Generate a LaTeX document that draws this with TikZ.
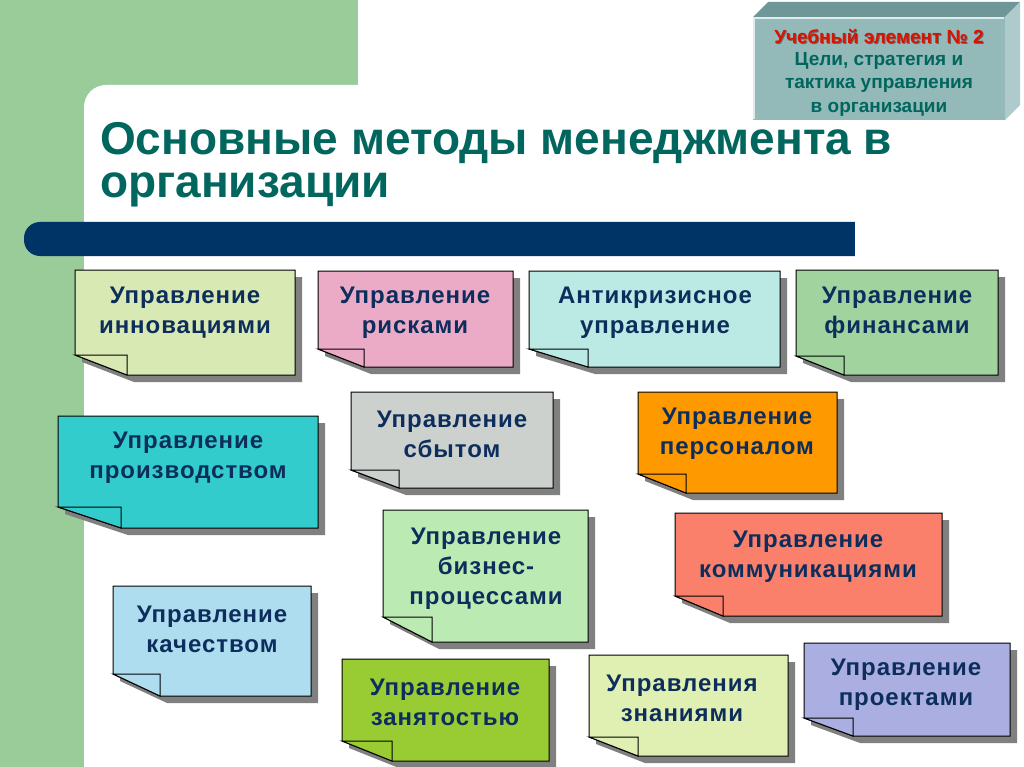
\documentclass[tikz,border=0pt]{standalone}
\usepackage{fontspec}
\setmainfont{Liberation Sans}
\newfontfamily\boxfont[LetterSpace=4]{Liberation Sans}
\definecolor{bggreen}{HTML}{99CC99}
\definecolor{navy}{HTML}{003366}
\definecolor{titleteal}{HTML}{00665E}
\definecolor{txtblue}{HTML}{0D2E5C}
\definecolor{shadowgray}{HTML}{808080}
\definecolor{cInnov}{HTML}{D8E9B3}
\definecolor{cRisk}{HTML}{EBAAC6}
\definecolor{cAnti}{HTML}{BBE9E3}
\definecolor{cFin}{HTML}{A0D39E}
\definecolor{cProiz}{HTML}{33CCCC}
\definecolor{cSbyt}{HTML}{CCD1CE}
\definecolor{cPers}{HTML}{FF9900}
\definecolor{cBiz}{HTML}{BBEBB3}
\definecolor{cComm}{HTML}{FA806B}
\definecolor{cKach}{HTML}{AEDDEF}
\definecolor{cZan}{HTML}{99CC33}
\definecolor{cZnan}{HTML}{E0F0B3}
\definecolor{cProj}{HTML}{AAAEE0}
\definecolor{boxface}{HTML}{94B9B9}
\definecolor{boxtop}{HTML}{6F9797}
\definecolor{boxright}{HTML}{AFCACA}
\definecolor{boxred}{HTML}{DD1100}
\tikzset{
  lbl/.style={text=txtblue, font=\boxfont\fontsize{24}{30}\selectfont\bfseries, align=center, inner sep=0pt, yshift=-2pt},
  titletext/.style={anchor=west, text=titleteal, font=\fontsize{46}{48}\selectfont\bfseries, inner sep=0pt},
  notefill/.style={draw=black, line width=1pt},
  noteshadow/.style={fill=shadowgray},
}
% #1 colour, #2 x0, #3 y0, #4 x1, #5 y1, #6 fold x, #7 fold y
\newcommand\notebox[7]{%
  \fill[noteshadow] ({#2+7},{#3+7}) -- ({#4+7},{#3+7}) -- ({#4+7},{#5+7}) -- ({#6+7},{#5+7}) -- ({#2+7},{#7+7}) -- cycle;
  \filldraw[notefill, fill=#1] (#2,#3) -- (#4,#3) -- (#4,#5) -- (#6,#5) -- (#2,#7) -- cycle;
  \filldraw[notefill, fill=#1] (#2,#7) -- (#6,#7) -- (#6,#5) -- cycle;
}
\begin{document}
\begin{tikzpicture}[x=1pt,y=-1pt]
\useasboundingbox (0,0) rectangle (1024,767);
\fill[white] (0,0) rectangle (1024,767);
% background
\fill[bggreen] (0,0) rectangle (358,767);
\fill[white, rounded corners=22pt] (84,85) -- (1100,85) -- (1100,800) -- (84,800) -- cycle;
\fill[white] (84,400) rectangle (1024,767);
\fill[white] (400,85) rectangle (1024,767);
% navy bar
\fill[navy, rounded corners=16pt] (24,222) -- (900,222) -- (900,256) -- (24,256) -- cycle;
\fill[navy] (100,222) rectangle (855,256);
\fill[white] (855,220) rectangle (910,258);
% title
\node[titletext] (title1) at (100,143) {Основные методы менеджмента в};
\node[titletext] (title2) at (100,190) {организации};
% top-right box
\fill[boxtop] (753,17) -- (768,2) -- (1020,2) -- (1005,17) -- cycle;
\fill[boxright] (1005,17) -- (1020,2) -- (1020,105) -- (1005,120) -- cycle;
\fill[boxface] (753,17) rectangle (1005,120);
\draw[white!70!boxface, line width=1.2pt] (754,119) -- (754,18) -- (1004,18);
\node[text=black!60, font=\fontsize{19}{20}\selectfont\bfseries, inner sep=0pt] (ueShadow) at (880,38) {Учебный элемент № 2};
\node[text=boxred, font=\fontsize{19}{20}\selectfont\bfseries, inner sep=0pt] (ue) at (879,37) {Учебный элемент № 2};
\node[text=titleteal, font=\fontsize{19}{23.5}\selectfont\bfseries, align=center, inner sep=0pt] (ueText) at (879,84) {Цели, стратегия и\\тактика управления\\в организации};
% notes
\notebox{cInnov}{75}{270}{295}{375}{127}{355}
\node[lbl] (innov) at (185,311) {Управление\\инновациями};
\notebox{cRisk}{318}{271}{513}{367}{364}{349}
\node[lbl] (risk) at (415,311) {Управление\\рисками};
\notebox{cAnti}{529}{271}{780}{367}{588}{349}
\node[lbl] (anti) at (655,311) {Антикризисное\\управление};
\notebox{cFin}{796}{270}{998}{375}{844}{356}
\node[lbl] (fin) at (897,311) {Управление\\финансами};
\notebox{cProiz}{58}{416}{318}{528}{121}{507}
\node[lbl] (proiz) at (188,456) {Управление\\производством};
\notebox{cSbyt}{351}{392}{553}{488}{399}{470}
\node[lbl] (sbyt) at (452,432) {Управление\\сбытом};
\notebox{cPers}{638}{392}{837}{493}{686}{474}
\node[lbl] (pers) at (737,432) {Управление\\персоналом};
\notebox{cBiz}{383}{510}{588}{642}{432}{617}
\node[lbl] (biz) at (486,567) {Управление\\бизнес-\\процессами};
\notebox{cComm}{675}{513}{942}{616}{723}{596}
\node[lbl] (comm) at (808,555) {Управление\\коммуникациями};
\notebox{cKach}{113}{586}{311}{696}{160}{674}
\node[lbl] (kach) at (212,627) {Управление\\качеством};
\notebox{cZan}{342}{659}{549}{761}{392}{741}
\node[lbl] (zan) at (445,700) {Управление\\занятостью};
\notebox{cZnan}{589}{655}{788}{756}{638}{737}
\node[lbl] (znan) at (682,696) {Управления\\знаниями};
\notebox{cProj}{804}{643}{1010}{736}{853}{718}
\node[lbl] (proj) at (906,683) {Управление\\проектами};
\end{tikzpicture}
\end{document}
